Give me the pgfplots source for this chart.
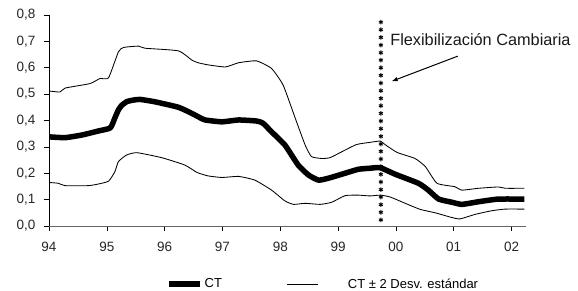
\documentclass[border=0pt]{standalone}
\usepackage{pgfplots}
\pgfplotsset{compat=1.18}
\usepackage{fontspec}
\setmainfont{Liberation Sans}
\begin{document}
\begin{tikzpicture}
\begin{axis}[
  scale only axis, width=477pt, height=211pt,
  xmin=94, xmax=102.25, ymin=0, ymax=0.8,
  clip mode=individual,
  axis x line=bottom, axis y line=left,
  axis line style={-},
  x axis line style={draw=gray!80!black},
  xtick={94,95,96,97,98,99,100,101,102},
  xticklabels={94,95,96,97,98,99,00,01,02},
  ytick={0,0.1,0.2,0.3,0.4,0.5,0.6,0.7,0.8},
  /pgf/number format/assume math mode=true,
  yticklabel style={/pgf/number format/fixed, /pgf/number format/fixed zerofill, /pgf/number format/precision=1, /pgf/number format/use comma, xshift=-5pt},
  tick style={black, line width=0.6pt},
  major tick length=5pt,
  tick align=outside,
  ticklabel style={font=\fontsize{13.5}{15}\selectfont, text=black!85},
  xticklabel style={yshift=-8pt},
  legend style={draw=none, fill=none, at={(0.2453,-0.2749)}, anchor=west, inner sep=0pt,
    font=\fontsize{13}{15}\selectfont, legend columns=2,
    /tikz/every even column/.append style={column sep=63pt}},
  legend image code/.code={\draw[#1] (0pt,0pt) -- (31pt,0pt);},
]
\addplot[black, line width=5.5pt, line join=round, smooth, tension=0.3] coordinates {
(94.0,0.338) (94.28,0.335) (94.57,0.345) (94.85,0.36) (95.06,0.372) (95.14,0.41) (95.2,0.44)
(95.26,0.458) (95.35,0.472) (95.45,0.477) (95.57,0.48) (95.83,0.471) (96.24,0.45) (96.47,0.427)
(96.6,0.412) (96.7,0.402) (96.99,0.395) (97.28,0.402) (97.59,0.398) (97.7,0.39) (97.85,0.357)
(98.08,0.307) (98.31,0.231) (98.49,0.193) (98.66,0.174) (98.83,0.181) (99.12,0.2) (99.35,0.215)
(99.55,0.219) (99.73,0.221) (99.99,0.196) (100.39,0.162) (100.56,0.136) (100.74,0.102)
(100.97,0.09) (101.14,0.082) (101.43,0.092) (101.77,0.102) (102.22,0.102)
};
\addlegendentry{CT}
\addplot[black, line width=0.85pt, smooth, tension=0.3] coordinates {
(94.0,0.512) (94.19,0.508) (94.28,0.523) (94.71,0.54) (94.88,0.559) (95.03,0.562) (95.2,0.66)
(95.29,0.677) (95.55,0.682) (95.66,0.674) (96.24,0.664) (96.47,0.629) (96.58,0.619) (96.75,0.611)
(97.05,0.603) (97.28,0.619) (97.59,0.626) (97.85,0.597) (98.05,0.534) (98.26,0.408) (98.43,0.307)
(98.54,0.263) (98.72,0.256) (98.86,0.259) (99.06,0.281) (99.32,0.309) (99.55,0.317) (99.73,0.322)
(99.81,0.309) (100.02,0.279) (100.33,0.256) (100.51,0.225) (100.71,0.162) (101.02,0.149)
(101.14,0.136) (101.43,0.143) (101.77,0.148) (101.89,0.143) (102.22,0.143)
};
\addlegendentry{\hspace{27pt}CT ± 2 Desv. estándar}
\addplot[black, line width=0.85pt, forget plot, smooth, tension=0.3] coordinates {
(94.0,0.165) (94.16,0.162) (94.28,0.153) (94.68,0.153) (94.85,0.159) (95.03,0.17) (95.14,0.206)
(95.2,0.244) (95.34,0.269) (95.52,0.278) (95.95,0.259) (96.35,0.231) (96.56,0.203) (96.75,0.19)
(96.99,0.184) (97.28,0.188) (97.56,0.174) (97.85,0.136) (98.08,0.095) (98.23,0.082) (98.43,0.086)
(98.69,0.082) (98.89,0.09) (99.12,0.115) (99.35,0.117) (99.55,0.114) (99.73,0.117) (99.9,0.11)
(100.16,0.086) (100.42,0.063) (100.68,0.05) (100.97,0.032) (101.11,0.027) (101.37,0.044)
(101.66,0.058) (101.89,0.064) (102.22,0.064)
};
\addplot[only marks, mark=asterisk, mark size=2.3pt, mark options={line width=0.9pt}, black, forget plot] coordinates {
(99.74,0.023) (99.74,0.052) (99.74,0.081) (99.74,0.110) (99.74,0.138) (99.74,0.167) (99.74,0.196)
(99.74,0.225) (99.74,0.254) (99.74,0.283) (99.74,0.311) (99.74,0.340) (99.74,0.369) (99.74,0.398)
(99.74,0.427) (99.74,0.456) (99.74,0.484) (99.74,0.513) (99.74,0.542) (99.74,0.571) (99.74,0.600)
(99.74,0.629) (99.74,0.657) (99.74,0.686) (99.74,0.715) (99.74,0.744) (99.74,0.773)
};
\node[anchor=west, inner sep=0pt, font=\fontsize{16.3}{18}\selectfont, text=black!90] at (axis cs:99.90,0.705) {Flexibilización Cambiaria};
\draw[-latex, line width=1pt] (axis cs:101.07,0.644) -- (axis cs:99.93,0.549);
\end{axis}
\pgfresetboundingbox
\useasboundingbox (-49pt,-65pt) rectangle (529pt,226pt);
\end{tikzpicture}
\end{document}
